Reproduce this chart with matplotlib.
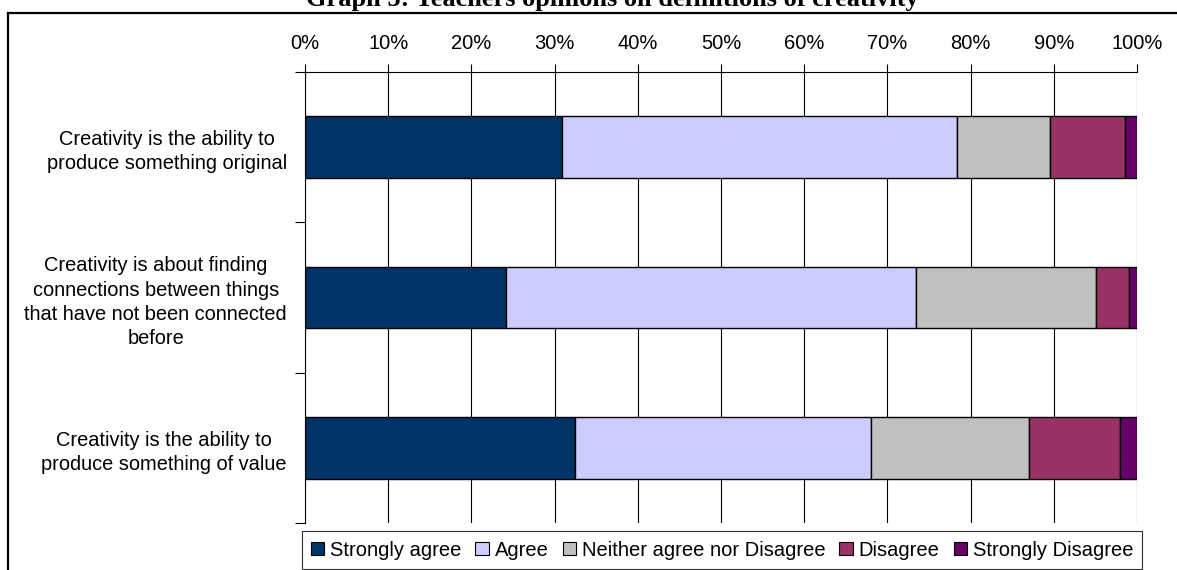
import numpy as np
import matplotlib.pyplot as plt
from matplotlib.lines import Line2D
from matplotlib.patches import Patch

plt.rcParams['font.family'] = ['Liberation Sans', 'DejaVu Sans']

# data
statements = ["Creativity is the ability to\nproduce something original",
              "Creativity is about finding\nconnections between things\nthat have not been connected\nbefore",
              "Creativity is the ability to\nproduce something of value"]
categories = ["Strongly agree", "Agree", "Neither agree nor Disagree", "Disagree", "Strongly Disagree"]
strongly_agree = [30.9, 24.2, 32.5]
agree = [47.5, 49.2, 35.5]
neither = [11.2, 21.7, 19.0]
disagree = [9.0, 3.9, 10.9]
strongly_disagree = [1.4, 1.0, 2.1]
colors = ["#003366", "#CCCCFF", "#C0C0C0", "#993366", "#660066"]

series = [strongly_agree, agree, neither, disagree, strongly_disagree]

fig = plt.figure(figsize=(11.77, 5.70), dpi=100)
ax = fig.add_axes([305/1177, 1-523/570, 832/1177, 451/570])

y = np.arange(len(statements))
left = np.zeros(len(statements))
for vals, col, name in zip(series, colors, categories):
    vals = np.array(vals)
    ax.barh(y, vals, left=left, height=0.41, color=col, edgecolor='black', linewidth=1.0, label=name, zorder=3)
    left = left + vals

ax.set_xlim(0, 100)
ax.set_ylim(2.5, -0.5)
ax.set_xticks(np.arange(0, 101, 10))
ax.set_xticklabels([f"{v}%" for v in range(0, 101, 10)])
ax.xaxis.tick_top()
ax.tick_params(axis='x', direction='out', length=6, width=0.8, pad=8, labelsize=14.5)
ax.grid(axis='x', color='black', linewidth=0.8, zorder=0)

ax.set_yticks(y)
ax.set_yticklabels(statements, fontsize=14.4, ha='right', multialignment='center', linespacing=1.35)
ax.tick_params(axis='y', which='major', length=0, pad=13)
ax.set_yticks([-0.5, 0.5, 1.5, 2.5], minor=True)
ax.tick_params(axis='y', which='minor', length=7, width=0.8, direction='out')

for s in ['bottom', 'right']:
    ax.spines[s].set_visible(False)
for s in ['top', 'left']:
    ax.spines[s].set_linewidth(0.8)

handles = [Patch(facecolor=c, edgecolor='black', linewidth=0.8) for c in colors]
leg = fig.legend(handles, categories, loc='center', ncol=5, bbox_to_anchor=(722/1177, 1-550/570),
                 fontsize=14.5, frameon=True, fancybox=False, edgecolor='black',
                 handlelength=0.65, handleheight=0.65, handletextpad=0.3, columnspacing=0.7,
                 borderpad=0.45, borderaxespad=0)
leg.get_frame().set_linewidth(0.8)

# outer frame and cut title
fig.add_artist(Line2D([8/1177, 1], [1-13/570, 1-13/570], color='black', linewidth=1.6))
fig.add_artist(Line2D([8/1177, 8/1177], [0, 1-13/570], color='black', linewidth=1.6))
fig.text(612/1177, 1-6/570, "Graph 5: Teachers opinions on definitions of creativity",
         family=['Liberation Serif', 'DejaVu Serif'], fontweight='bold', fontsize=19,
         ha='center', va='baseline')

fig.savefig("out.png", dpi=100)
